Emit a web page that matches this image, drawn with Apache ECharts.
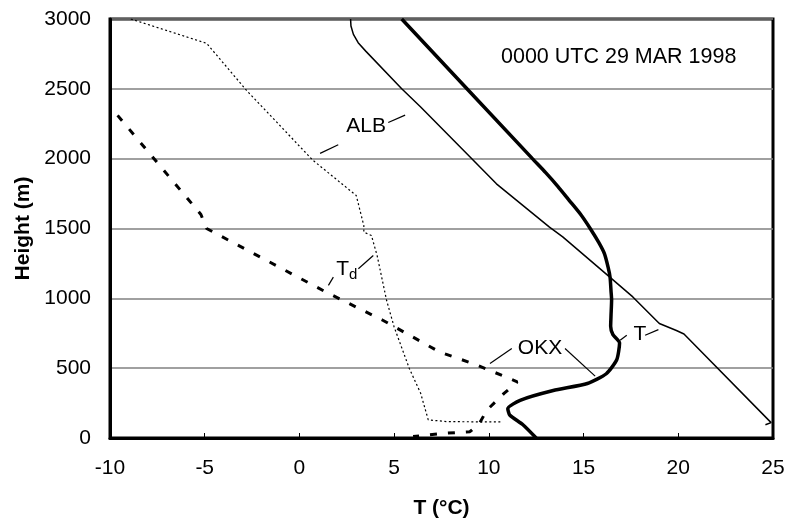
<!DOCTYPE html>
<html>
<head>
<meta charset="utf-8">
<script src="https://cdn.jsdelivr.net/npm/echarts@6/dist/echarts.min.js"></script>
<style>
  html, body { margin: 0; padding: 0; background: #fff; }
  #chart { width: 789px; height: 525px; }
</style>
</head>
<body>
<div id="chart"></div>
<script>
// soundings, [T (°C), height (m)]
var okxT = [[5.4,3000],[12.3,2000],[13.0,1900],[13.65,1800],[14.25,1700],[14.85,1600],[15.35,1500],
    [15.8,1400],[16.1,1320],[16.3,1220],[16.4,1150],[16.45,1050],[16.48,990],[16.45,880],[16.43,800],
    [16.55,740],[16.9,680],[16.75,560],[16.2,460],[15.2,390],[13.4,340],[11.65,270],[11.0,210],[11.1,165],
    [11.8,95],[12.5,0]];
var okxTd = [[-9.6,2310],[-5.2,1600],[-4.9,1500],[1.4,1045],[4.4,843],[7.4,616],[9.4,521],[11.5,402],
    [10.8,319],[9.9,200],[9.5,105],[9.0,45],[7.6,33],[6.0,10]];
var albT = [[2.7,3000],[2.72,2950],[2.85,2890],[3.1,2830],[3.5,2770],[5.4,2500],[6.4,2370],[9.1,2000],
    [10.4,1820],[13.2,1510],[13.9,1440],[16.4,1150],[17.6,1010],[19.0,820],[19.9,770],[20.3,745],
    [24.9,110],[24.6,95]];
var albTd = [[-8.9,3000],[-4.9,2826],[-2.8,2490],[0.7,1990],[3.0,1736],[3.4,1520],[3.4,1474],[3.8,1450],
    [4.1,1307],[4.6,986],[5.0,795],[5.8,498],[6.4,320],[6.8,130],[7.8,117],[10.7,115]];

var xTicks = [-10, 25, 5];   // min, max, step
var yTicks = [0, 3000, 500];

// label texts and their leader lines (data coords)
var labelTexts = ['ALB', 'OKX', 'T', 'Td'];
var labelAt = [[3.52,2229],[12.7,643],[17.98,743],[2.5,1200]];
var leaders = [
    [[1.09,2038],[2.05,2100]], [[4.69,2259],[5.58,2312]],
    [[10.06,534],[11.21,641]], [[14.02,641],[15.61,443]],
    [[16.93,700],[17.28,736]], [[18.25,736],[18.95,776]],
    [[1.53,1093],[1.79,1152]], [[3.11,1212],[3.9,1307]]
];

var font = 'Liberation Sans, Arial, sans-serif';
var chart = echarts.init(document.getElementById('chart'));

var option = {
    animation: false,
    backgroundColor: '#fff',
    textStyle: { fontFamily: font, color: '#000' },
    title: {
        text: '0000 UTC 29 MAR 1998',
        left: 496, top: 41,
        textStyle: { fontFamily: font, fontSize: 21.5, fontWeight: 'normal', color: '#000' }
    },
    grid: {
        left: 110, right: 16, top: 19, bottom: 87,
        show: true, borderColor: '#000', borderWidth: 3, backgroundColor: '#fff'
    },
    xAxis: {
        type: 'value', min: xTicks[0], max: xTicks[1], interval: xTicks[2],
        name: 'T (°C)', nameLocation: 'middle', nameGap: 60,
        nameTextStyle: { fontFamily: font, fontSize: 21, fontWeight: 'bold', color: '#000' },
        axisLine: { show: true, onZero: false, lineStyle: { color: '#000', width: 3 } },
        axisTick: { show: true, inside: true, length: 5, lineStyle: { color: '#000', width: 1 } },
        axisLabel: { fontFamily: font, fontSize: 21, color: '#000', margin: 20 },
        splitLine: { show: false }
    },
    yAxis: {
        type: 'value', min: yTicks[0], max: yTicks[1], interval: yTicks[2],
        name: 'Height (m)', nameLocation: 'middle', nameGap: 69,
        nameTextStyle: { fontFamily: font, fontSize: 21, fontWeight: 'bold', color: '#000' },
        axisLine: { show: true, onZero: false, lineStyle: { color: '#000', width: 3 } },
        axisTick: { show: false },
        axisLabel: {
            fontFamily: font, fontSize: 21, color: '#000', margin: 19,
            formatter: function (v) { return String(v); }
        },
        splitLine: { show: true, lineStyle: { color: '#808080', width: 1.5 } }
    },
    series: [
        {
            name: 'OKX T', type: 'line', data: okxT, smooth: 0.2, symbol: 'none',
            lineStyle: { color: '#000', width: 3.5 }, z: 5
        },
        {
            name: 'OKX Td', type: 'line', data: okxTd, symbol: 'none',
            lineStyle: { color: '#000', width: 3, type: [7, 11], cap: 'butt' }, z: 4
        },
        {
            name: 'ALB T', type: 'line', data: albT, symbol: 'none',
            lineStyle: { color: '#000', width: 1.5 }, z: 3
        },
        {
            name: 'ALB Td', type: 'line', data: albTd, symbol: 'none',
            lineStyle: { color: '#000', width: 1.2, type: [2, 2.5] }, z: 3
        },
        {
            name: 'labels', type: 'line', data: [], symbol: 'none', silent: true,
            markLine: {
                silent: true, symbol: ['none', 'none'], animation: false,
                label: { show: false },
                lineStyle: { color: '#000', width: 1.2, type: 'solid' },
                emphasis: { disabled: true },
                data: leaders.map(function (l) { return [{ coord: l[0] }, { coord: l[1] }]; })
            },
            markPoint: {
                silent: true, symbol: 'circle', symbolSize: 0, animation: false,
                label: {
                    show: true, position: 'inside', color: '#000', fontFamily: font, fontSize: 21,
                    formatter: function (p) {
                        return p.name === 'Td' ? '{t|T}{d|d}' : p.name;
                    },
                    rich: {
                        t: { fontFamily: font, fontSize: 21, color: '#000', verticalAlign: 'top', lineHeight: 24 },
                        d: { fontFamily: font, fontSize: 15, color: '#000', verticalAlign: 'bottom', lineHeight: 15, padding: [14, 0, 0, 0] }
                    }
                },
                data: labelTexts.map(function (t, i) { return { name: t, coord: labelAt[i] }; })
            }
        }
    ]
};
chart.setOption(option);
</script>
</body>
</html>
